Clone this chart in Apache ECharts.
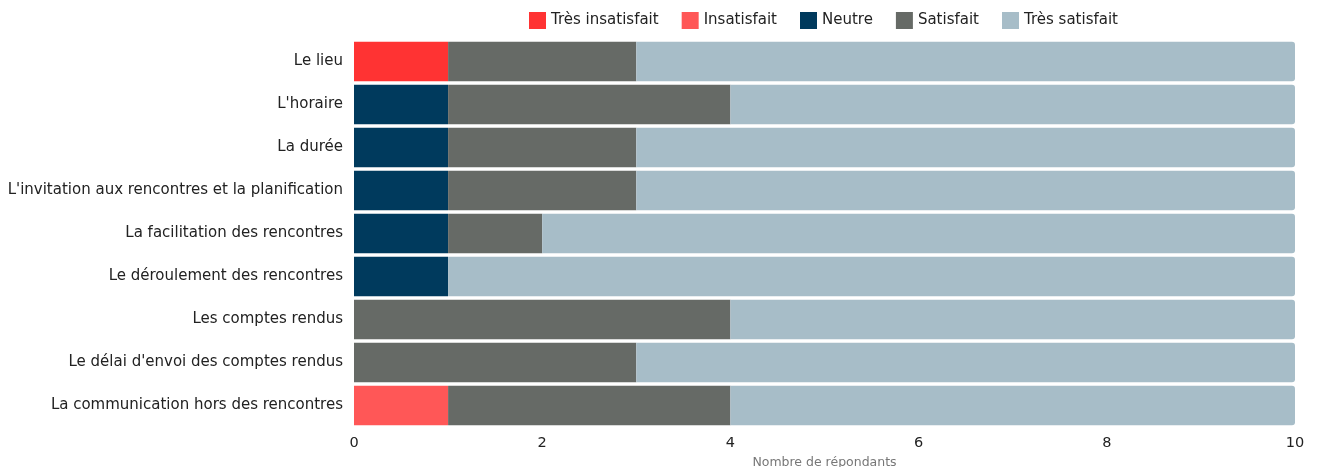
<!DOCTYPE html>
<html><head><meta charset="utf-8">
<script src="https://cdn.jsdelivr.net/npm/echarts@6/dist/echarts.min.js"></script>
<style>html,body{margin:0;padding:0;background:#fff}#c{width:1320px;height:467px}</style>
</head><body><div id="c"></div>
<script>
const categories = ["Le lieu","L'horaire","La durée","L'invitation aux rencontres et la planification","La facilitation des rencontres","Le déroulement des rencontres","Les comptes rendus","Le délai d'envoi des comptes rendus","La communication hors des rencontres"];
const tresInsatisfait = [1,0,0,0,0,0,0,0,0];
const insatisfait     = [0,0,0,0,0,0,0,0,1];
const neutre          = [0,1,1,1,1,1,0,0,0];
const satisfait       = [2,3,2,2,1,0,4,3,3];
const tresSatisfait   = [7,6,7,7,8,9,6,7,6];
const seriesNames = ["Très insatisfait","Insatisfait","Neutre","Satisfait","Très satisfait"];
const colors = ["#FF3333","#FF5757","#003A5D","#666A66","#A7BDC8"];
const allData = [tresInsatisfait, insatisfait, neutre, satisfait, tresSatisfait];
const font = "DejaVu Sans";
const chart = echarts.init(document.getElementById('c'));
chart.setOption({
  animation:false,
  textStyle:{fontFamily:font},
  legend:{top:7,left:524,itemWidth:17,itemHeight:17,itemGap:23,icon:'rect',
    textStyle:{fontSize:15,color:'#222',fontFamily:font}},
  grid:{left:354,right:25,top:40,bottom:40,containLabel:false,outerBoundsMode:'none'},
  xAxis:{type:'value',min:0,max:10,interval:2,
    name:'Nombre de répondants',nameLocation:'middle',nameGap:27,
    nameTextStyle:{fontSize:12.5,color:'#777',fontFamily:font},
    axisLabel:{fontSize:14.5,color:'#222',margin:9},
    splitLine:{show:false},axisLine:{show:false},axisTick:{show:false}},
  yAxis:{type:'category',data:categories,inverse:true,
    axisLabel:{fontSize:15,color:'#222',margin:11},
    axisLine:{show:false},axisTick:{show:false}},
  series: seriesNames.map((n,i)=>({
    name:n,type:'bar',stack:'total',barCategoryGap:'8%',
    itemStyle:{color:colors[i]},
    data: allData[i].map((v,j)=>{
      const last = (i===4);
      return {value:v,itemStyle:last?{borderRadius:[0,3,3,0]}:{}};
    })
  }))
});
</script></body></html>
